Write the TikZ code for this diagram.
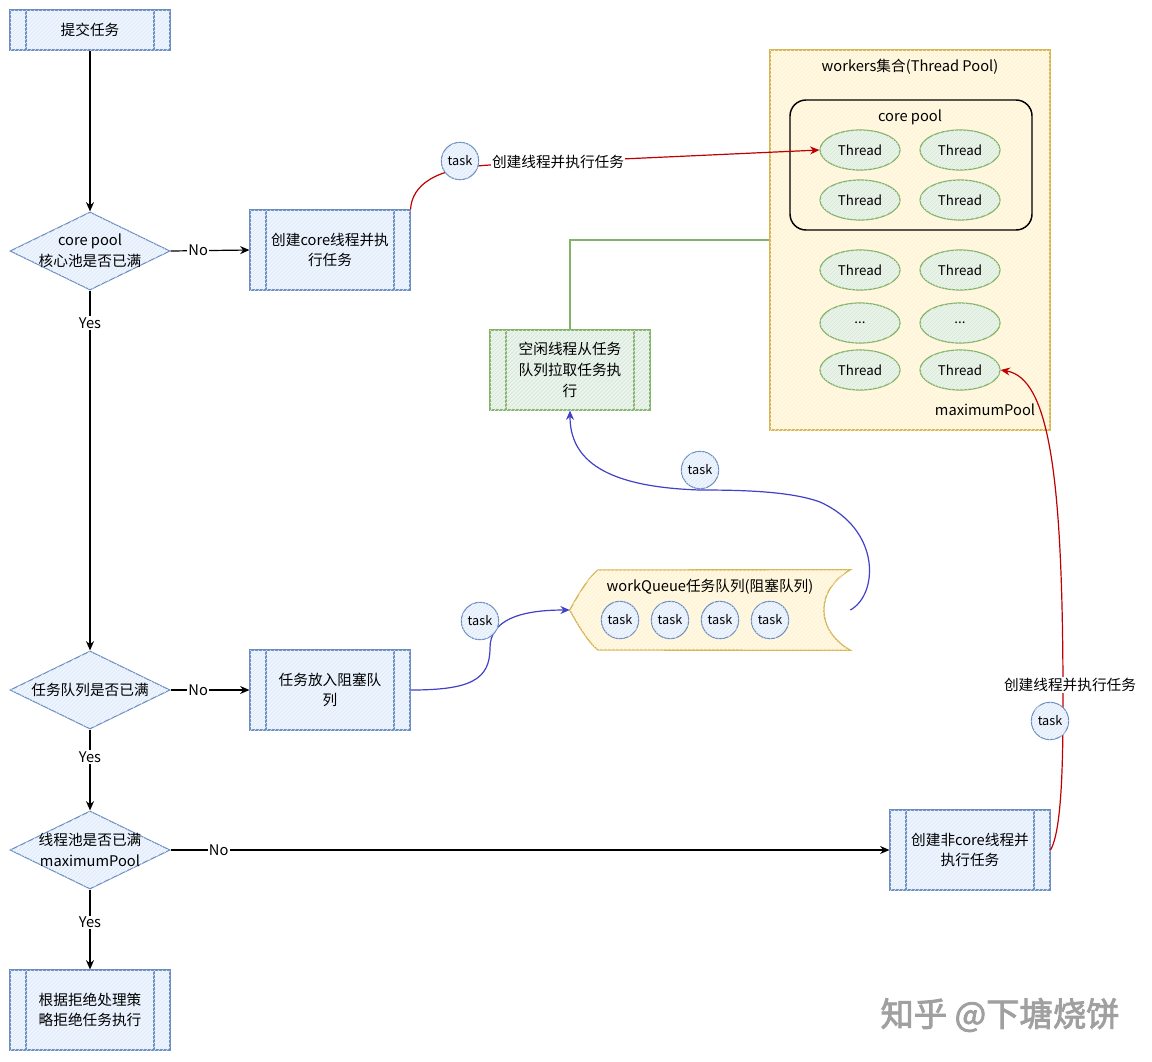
\documentclass[tikz,border=0pt]{standalone}
\usepackage{fontspec}
\setmainfont{Noto Sans CJK SC}
\newfontfamily\wmfont[FakeBold=2.5]{Noto Sans CJK SC}
\usetikzlibrary{shapes.geometric,arrows.meta,patterns}
\definecolor{bstroke}{HTML}{6C8EBF}
\definecolor{bfill}{HTML}{DAE8FC}
\definecolor{gstroke}{HTML}{82B366}
\definecolor{gfill}{HTML}{D5E8D4}
\definecolor{ystroke}{HTML}{D6B656}
\definecolor{yfill}{HTML}{FFF2CC}
\definecolor{redc}{HTML}{C00000}
\definecolor{bluec}{HTML}{4040C8}
\definecolor{wmark}{HTML}{A0A0A0}
\tikzset{
  procB/.style={draw=bstroke, line width=0.8pt, fill=bfill!45,
    postaction={pattern=north east lines, pattern color=bfill},
    minimum width=120pt, minimum height=60pt, align=center, inner sep=0pt,
    path picture={\draw[bstroke, line width=0.8pt]
      ([xshift=12pt]path picture bounding box.north west) -- ([xshift=12pt]path picture bounding box.south west)
      ([xshift=-12pt]path picture bounding box.north east) -- ([xshift=-12pt]path picture bounding box.south east);}},
  procG/.style={procB, draw=gstroke, fill=gfill!45,
    postaction={pattern=north east lines, pattern color=gfill},
    path picture={\draw[gstroke, line width=0.8pt]
      ([xshift=12pt]path picture bounding box.north west) -- ([xshift=12pt]path picture bounding box.south west)
      ([xshift=-12pt]path picture bounding box.north east) -- ([xshift=-12pt]path picture bounding box.south east);}},
  dia/.style={diamond, draw=bstroke, line width=0.8pt, fill=bfill!45,
    postaction={pattern=north east lines, pattern color=bfill},
    minimum width=120pt, minimum height=58.5pt, inner sep=0pt},
  thr/.style={ellipse, draw=gstroke, line width=0.9pt, fill=gfill!50,
    postaction={pattern=north east lines, pattern color=gfill},
    minimum width=60pt, minimum height=30pt, inner sep=0pt, font=\fontsize{10}{12}\selectfont},
  tsk/.style={circle, draw=bstroke, line width=0.8pt, fill=bfill!45,
    postaction={pattern=north east lines, pattern color=bfill},
    minimum size=28pt, inner sep=0pt, font=\fontsize{9.5}{11}\selectfont},
  flow/.style={draw=black, line width=0.9pt, -{Stealth[length=7pt,width=6pt]}},
  lbl/.style={fill=white, inner sep=1pt},
  redarrow/.style={draw=redc, line width=0.9pt, -{Stealth[length=7pt,width=6pt]}},
  bluearrow/.style={draw=bluec, line width=0.9pt, -{Stealth[length=7pt,width=6pt]}},
}
\begin{document}
\begin{tikzpicture}[x=0.75pt, y=-0.75pt, font=\fontsize{11}{15.5}\selectfont]
\useasboundingbox (0,0) rectangle (1152,1061);

% worker pool container
\node[draw=ystroke, line width=0.9pt, fill=yfill!55,
  postaction={pattern=north east lines, pattern color=yfill},
  minimum width=210pt, minimum height=285pt, inner sep=0pt] (wp) at (910,240) {};
\node (wptitle) at (910,67) {workers集合(Thread Pool)};
\node[draw=black, line width=1.1pt, rounded corners=12pt, minimum width=181.5pt, minimum height=97.5pt, inner sep=0pt] (cp) at (911,165) {};
\node (cptitle) at (910,117) {core pool};
\node[thr] (t1) at (860,150) {Thread};
\node[thr] (t2) at (960,150) {Thread};
\node[thr] (t3) at (860,200) {Thread};
\node[thr] (t4) at (960,200) {Thread};
\node[thr] (t5) at (860,270) {Thread};
\node[thr] (t6) at (960,270) {Thread};
\node[thr] (t7) at (860,323) {...};
\node[thr] (t8) at (960,323) {...};
\node[thr] (t9) at (860,370) {Thread};
\node[thr] (t10) at (960,370) {Thread};
\node (maxp) at (985,410) {maximumPool};

% flow nodes
\node[procB, minimum height=30pt] (submit) at (90,30) {提交任务};
\node[dia, label={[align=center]center:core pool\\核心池是否已满}] (d1) at (90,251) {};
\node[procB] (b1) at (330,250) {创建core线程并执\\行任务};
\node[dia, label={[align=center]center:任务队列是否已满}] (d2) at (90,690) {};
\node[procB] (b2) at (330,690) {任务放入阻塞队\\列};
\node[dia, label={[align=center]center:线程池是否已满\\maximumPool}] (d3) at (90,850) {};
\node[procB] (b3) at (970,850) {创建非core线程并\\执行任务};
\node[procB] (rej) at (90,1010) {根据拒绝处理策\\略拒绝任务执行};
\node[procG] (g) at (570,370) {空闲线程从任务\\队列拉取任务执\\行};

% work queue
\node[minimum width=210pt, minimum height=60pt, inner sep=0pt] (wq) at (710,610) {};
\draw[draw=ystroke, line width=1pt, fill=yfill!55,
  postaction={pattern=north east lines, pattern color=yfill}]
  (wq.west) .. controls (578,595) and (588,578) .. (598,570) -- (wq.north east)
  .. controls (815,590) and (815,630) .. (wq.south east) -- (598,650)
  .. controls (588,642) and (578,625) .. (wq.west) -- cycle;
\node (wqtitle) at (710,587) {workQueue任务队列(阻塞队列)};
\node[tsk] (q1) at (620,620) {task};
\node[tsk] (q2) at (670,620) {task};
\node[tsk] (q3) at (720,620) {task};
\node[tsk] (q4) at (770,620) {task};

% main flow connectors
\draw[flow] (submit) -- (d1);
\draw[flow] (d1.east) -- node[lbl, pos=0.35] {No} (b1.west);
\draw[flow] (d1.south) -- node[lbl, pos=0.09] {Yes} (d2.north);
\draw[flow] (d2.east) -- node[lbl, pos=0.35] {No} (b2.west);
\draw[flow] (d2.south) -- node[lbl, pos=0.34] {Yes} (d3.north);
\draw[flow] (d3.east) -- node[lbl, pos=0.067] {No} (b3.west);
\draw[flow] (d3.south) -- node[lbl, pos=0.41] {Yes} (rej.north);

% green connector
\draw[draw=gstroke, line width=1.2pt] (g.north) |- (wp.west);

% red connector top
\draw[redarrow] (b1.north east) .. controls (412,185) and (435,168) .. (490,165) -- (t1.west);
\node[lbl] (lab1) at (558,162) {创建线程并执行任务};
\node[tsk] (k1) at (460,161) {task};

% blue connectors
\draw[bluearrow] (b2.east) .. controls (470,690) and (490,680) .. (490,648) .. controls (490,620) and (520,610) .. (wq.west);
\node[tsk] (k2) at (480,621) {task};
\draw[bluearrow] (wq.east) .. controls (878,595) and (882,530) .. (820,502) .. controls (790,491) and (740,490) .. (700,490) .. controls (605,487) and (570,460) .. (g.south);
\node[tsk] (k3) at (700,470) {task};

% red connector right
\draw[redarrow] (b3.east) .. controls (1062,830) and (1063,760) .. (1063,700) .. controls (1063,480) and (1050,378) .. (t10.east);
\node[lbl] (lab2) at (1070,685) {创建线程并执行任务};
\node[tsk] (k4) at (1050,721) {task};

% watermark
\node[text=wmark, font=\wmfont\fontsize{25}{30}\selectfont] (wm) at (1000,1015) {知乎 @下塘烧饼};
\end{tikzpicture}
\end{document}
